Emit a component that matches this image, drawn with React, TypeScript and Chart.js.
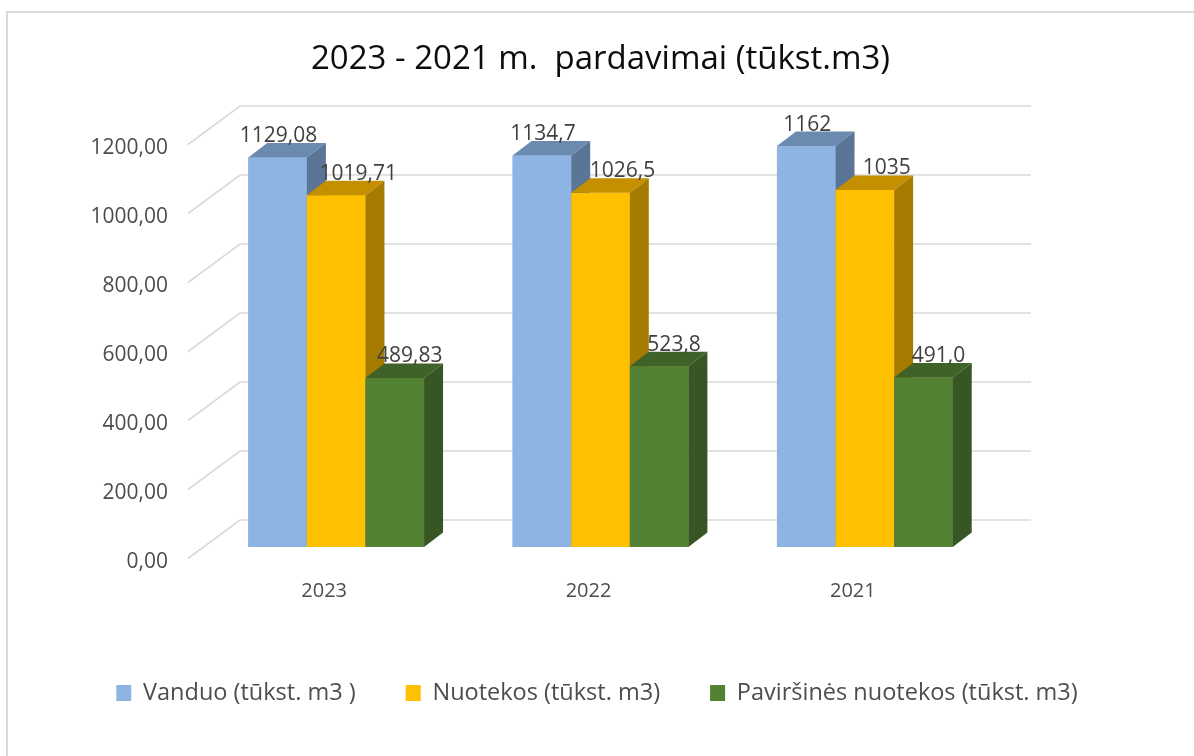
import React, { useEffect, useRef } from "react";
import { Chart, registerables } from "chart.js";

Chart.register(...registerables);

// ---- data ----
const categories = ["2023", "2022", "2021"];
const seriesNames = [
  "Vanduo (tūkst. m3 )",
  "Nuotekos (tūkst. m3)",
  "Paviršinės nuotekos (tūkst. m3)",
];
const vanduo = [1129.08, 1134.7, 1162];
const nuotekos = [1019.71, 1026.5, 1035];
const pavirsines = [489.83, 523.8, 491.0];
const vanduoLabels = ["1129,08", "1134,7", "1162"];
const nuotekosLabels = ["1019,71", "1026,5", "1035"];
const pavirsinesLabels = ["489,83", "523,8", "491,0"];
const yTickLabels = ["0,00", "200,00", "400,00", "600,00", "800,00", "1000,00", "1200,00"];
const titleText = "2023 - 2021 m.  pardavimai (tūkst.m3)";

// ---- styles ----
const FONT = "'Open Sans', 'DejaVu Sans', sans-serif";
const frontColors = ["#8EB4E3", "#FFC000", "#548235"];
const topColors = ["#6A8AB0", "#C49000", "#3F6228"];
const sideColors = ["#5A7596", "#A67C00", "#375623"];
const labelShift = [1, 22, 15];
const DX = 19;
const DY = 14.5;

const seriesValues = [vanduo, nuotekos, pavirsines];
const seriesLabels = [vanduoLabels, nuotekosLabels, pavirsinesLabels];

const bar3dPlugin = {
  id: "bar3d",
  beforeDatasetsDraw(chart: any) {
    const { ctx, chartArea, scales } = chart;
    const ys = scales.y;
    ctx.save();
    ctx.strokeStyle = "#D9D9D9";
    ctx.lineWidth = 1.6;
    ys.ticks.forEach((t: any) => {
      const yb = ys.getPixelForValue(t.value);
      ctx.beginPath();
      ctx.moveTo(chartArea.left - 16, yb + 11.5);
      ctx.lineTo(chartArea.left + 36, yb - 27);
      ctx.lineTo(chartArea.right + 34, yb - 27);
      ctx.stroke();
    });
    ctx.restore();
  },
  afterDatasetsDraw(chart: any) {
    const { ctx } = chart;
    ctx.save();
    chart.data.datasets.forEach((_ds: any, di: number) => {
      const meta = chart.getDatasetMeta(di);
      meta.data.forEach((el: any) => {
        const { x, y, base, width } = el;
        const l = x - width / 2;
        const r = x + width / 2;
        ctx.fillStyle = frontColors[di];
        ctx.fillRect(l, y, width, base - y);
        ctx.fillStyle = topColors[di];
        ctx.beginPath();
        ctx.moveTo(l, y);
        ctx.lineTo(l + DX, y - DY);
        ctx.lineTo(r + DX, y - DY);
        ctx.lineTo(r, y);
        ctx.closePath();
        ctx.fill();
        ctx.fillStyle = sideColors[di];
        ctx.beginPath();
        ctx.moveTo(r, y);
        ctx.lineTo(r + DX, y - DY);
        ctx.lineTo(r + DX, base - DY);
        ctx.lineTo(r, base);
        ctx.closePath();
        ctx.fill();
      });
    });
    ctx.font = `21px ${FONT}`;
    ctx.fillStyle = "#404040";
    ctx.textAlign = "center";
    ctx.textBaseline = "middle";
    chart.data.datasets.forEach((_ds: any, di: number) => {
      const meta = chart.getDatasetMeta(di);
      meta.data.forEach((el: any, i: number) => {
        ctx.fillText(seriesLabels[di][i], el.x + labelShift[di], el.y - 21.5);
      });
    });
    ctx.restore();
  },
};

export default function App() {
  const canvasRef = useRef<HTMLCanvasElement | null>(null);

  useEffect(() => {
    if (!canvasRef.current) return;
    Chart.defaults.font.family = FONT;
    const chart = new Chart(canvasRef.current, {
      type: "bar",
      data: {
        labels: categories,
        datasets: seriesNames.map((name, i) => ({
          label: name,
          data: seriesValues[i],
          backgroundColor: frontColors[i],
          borderWidth: 0,
          categoryPercentage: 0.665,
          barPercentage: 1,
        })),
      },
      options: {
        responsive: false,
        animation: false,
        devicePixelRatio: 1,
        layout: { padding: { left: 0, right: 0, top: 0, bottom: 41.25 } },
        plugins: {
          title: {
            display: true,
            text: titleText,
            color: "#0D0D0D",
            fullSize: false,
            font: { size: 33, weight: "normal", family: FONT },
            padding: { top: 40.1, bottom: 53.3 },
          },
          legend: {
            position: "bottom",
            labels: {
              boxWidth: 15,
              boxHeight: 16,
              padding: 50,
              color: "#4D4D4D",
              font: { size: 23.5, family: FONT },
            },
          },
          tooltip: { enabled: false },
        },
        scales: {
          x: {
            grid: { display: false, drawTicks: false },
            border: { display: false },
            ticks: {
              padding: 32.4,
              labelOffset: -12,
              color: "#4D4D4D",
              font: { size: 20, family: FONT },
            },
            afterFit: (s: any) => {
              s.height = 84.25;
            },
          },
          y: {
            min: 0,
            max: 1200,
            grid: { display: false, drawTicks: false },
            border: { display: false },
            ticks: {
              stepSize: 200,
              padding: 36,
              labelOffset: 15,
              color: "#4D4D4D",
              font: { size: 21, family: FONT },
              callback: (_v: any, i: number) => yTickLabels[i],
            },
            afterFit: (s: any) => {
              s.width = 204;
            },
          },
          y2: {
            position: "right",
            grid: { display: false, drawTicks: false },
            border: { display: false },
            ticks: { display: false },
            afterFit: (s: any) => {
              s.width = 197;
            },
          },
        },
      } as any,
      plugins: [bar3dPlugin],
    });
    return () => chart.destroy();
  }, []);

  return (
    <div
      style={{
        position: "fixed",
        left: 0,
        top: 0,
        width: 1194,
        height: 756,
        background: "#ffffff",
        overflow: "hidden",
      }}
    >
      <div
        style={{
          position: "absolute",
          left: 6,
          top: 11,
          width: 1300,
          height: 900,
          borderLeft: "2px solid #D9D9D9",
          borderTop: "2px solid #D9D9D9",
        }}
      />
      <canvas
        ref={canvasRef}
        width={1194}
        height={756}
        style={{ position: "absolute", left: 0, top: 0, width: 1194, height: 756 }}
      />
    </div>
  );
}
